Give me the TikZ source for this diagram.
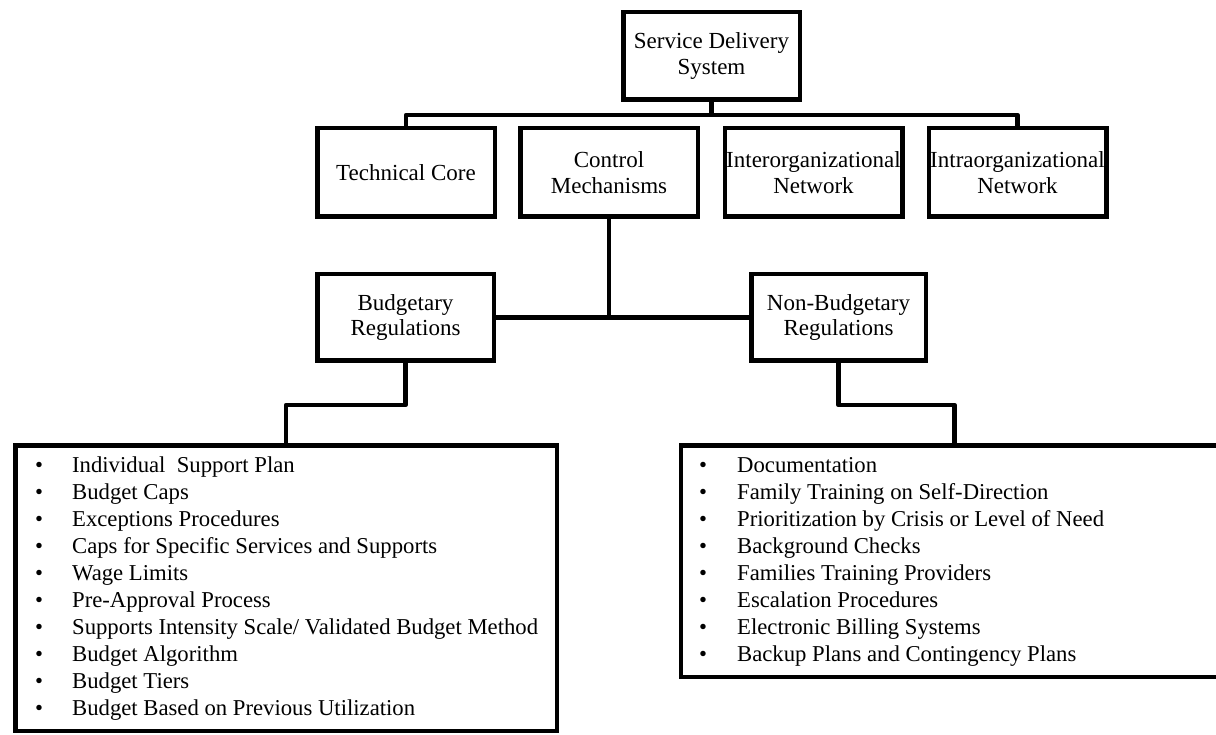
\documentclass[tikz,border=0pt]{standalone}
\usepackage{fontspec}
\setmainfont{Liberation Serif}
\usetikzlibrary{positioning}

\tikzset{
  box/.style={draw=black, line width=4.5pt, fill=white, align=center, inner sep=0pt,
    minimum width=177.5pt, minimum height=88.5pt,
    font=\fontsize{23}{25.5}\selectfont},
  listbox/.style={draw=black, line width=4.5pt, fill=white, inner sep=0pt},
  listtext/.style={anchor=base west, inner sep=0pt, align=left,
    font=\fontsize{22.7}{27.1}\selectfont},
  link/.style={draw=black, line width=4.5pt, line join=round}
}

\newcommand{\bulletrow}[1]{\textbullet & #1\\}

\begin{document}
\begin{tikzpicture}[x=1pt, y=-1pt]
  \useasboundingbox (0,0) rectangle (1216,735);

  % Top of the hierarchy
  \node[box, minimum width=176.5pt, minimum height=87.5pt] (sds) at (711.5,56) {Service Delivery\\System};

  % First level
  \node[box] (tc)    at (406,172.5)    {Technical Core};
  \node[box] (cm)    at (609,172.5)    {Control\\Mechanisms};
  \node[box] (inter) at (813.5,172.5)  {Interorganizational\\Network};
  \node[box] (intra) at (1017.5,172.5) {Intraorganizational\\Network};

  % Second level
  \node[box, minimum width=176.5pt, minimum height=86.5pt] (bud)    at (405.5,317.5) {Budgetary\\Regulations};
  \node[box, minimum width=174.5pt, minimum height=86.5pt] (nonbud) at (838.5,317.5) {Non-Budgetary\\Regulations};

  % List boxes
  \node[listbox, minimum width=541.5pt, minimum height=285.5pt] (llist) at (286,588) {};
  \node[listbox, minimum width=547pt, minimum height=231.5pt] (rlist) at (954.5,561) {};

  \node[listtext] (ltext) at (35,472) {%
    \begin{tabular}[t]{@{}p{37pt}@{}l@{}}
      \bulletrow{Individual\ \ Support Plan}
      \bulletrow{Budget Caps}
      \bulletrow{Exceptions Procedures}
      \bulletrow{Caps for Specific Services and Supports}
      \bulletrow{Wage Limits}
      \bulletrow{Pre-Approval Process}
      \bulletrow{Supports Intensity Scale/ Validated Budget Method}
      \bulletrow{Budget Algorithm}
      \bulletrow{Budget Tiers}
      \textbullet & Budget Based on Previous Utilization
    \end{tabular}};

  \node[listtext] (rtext) at (699,472) {%
    \begin{tabular}[t]{@{}p{38pt}@{}l@{}}
      \bulletrow{Documentation}
      \bulletrow{Family Training on Self-Direction}
      \bulletrow{Prioritization by Crisis or Level of Need}
      \bulletrow{Background Checks}
      \bulletrow{Families Training Providers}
      \bulletrow{Escalation Procedures}
      \bulletrow{Electronic Billing Systems}
      \textbullet & Backup Plans and Contingency Plans
    \end{tabular}};

  % Connectors
  \coordinate (bus) at (0,115);
  \draw[link] (sds.south) -- (sds.south |- bus);
  \draw[link] (tc.north) -- (tc.north |- bus) -| (intra.north);
  \draw[link] (cm.south) -- (cm.south |- bud.east);
  \draw[link] (bud.east) -- (nonbud.west);
  \draw[link] (bud.south) -- ++(0,42) -| (llist.north);
  \draw[link] (nonbud.south) -- ++(0,42) -| (rlist.north);
\end{tikzpicture}
\end{document}
